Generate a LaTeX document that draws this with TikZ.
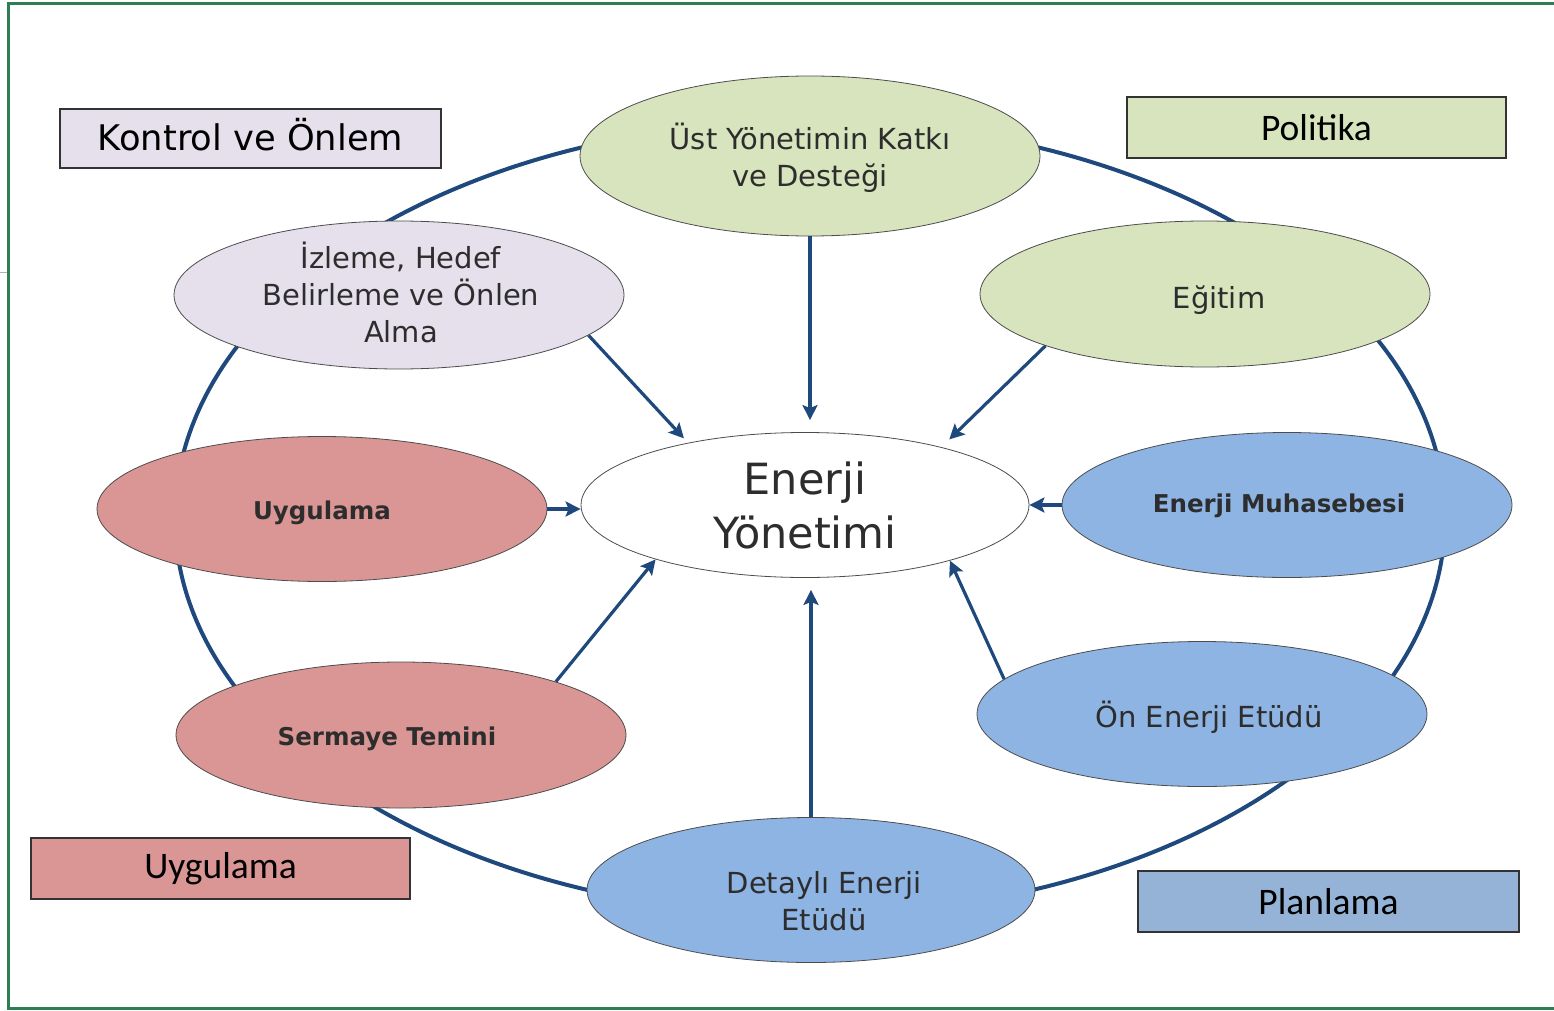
\documentclass[tikz,border=0pt]{standalone}
\usepackage{fontspec}
\setmainfont{DejaVu Sans}
\newfontfamily\carlfont{Carlito}
\usetikzlibrary{shapes.geometric,arrows.meta}
\definecolor{frameg}{RGB}{47,125,82}
\definecolor{linec}{RGB}{31,73,125}
\definecolor{lgreen}{RGB}{215,228,189}
\definecolor{lav}{RGB}{229,224,236}
\definecolor{rede}{RGB}{217,150,148}
\definecolor{bluee}{RGB}{142,180,227}
\definecolor{planb}{RGB}{149,179,215}
\definecolor{txt}{RGB}{45,45,45}
\begin{document}
\begin{tikzpicture}[x=1pt,y=-1pt,
  ell/.style={ellipse, draw=black!70, line width=0.8pt, inner sep=0pt,
              minimum width=450pt, minimum height=145pt},
  lbl/.style={inner sep=0pt, text=txt, align=center, font=\fontsize{29}{37}\selectfont},
  lblb/.style={lbl, font=\fontsize{24.5}{30}\selectfont\bfseries},
  boxn/.style={rectangle, draw=black!80, line width=1.5pt, inner sep=0pt, text=black},
  carl/.style={font=\carlfont\fontsize{37.5}{40}\selectfont},
  conn/.style={draw=linec, line width=3.2pt, -{Stealth[length=15pt,width=15pt,inset=3pt]}},
  ring/.style={draw=linec, line width=4pt}]
\useasboundingbox (0,0) rectangle (1554,1011);
% frame
\draw[frameg, line width=3pt] (1560,4) -- (8.5,4) -- (8.5,1008.5) -- (1560,1008.5);
\draw[gray!60, line width=0.8pt] (0,272) -- (7,272);
% ring
\draw[ring] (810,518) ellipse [x radius=635pt, y radius=397pt];
% ellipses
\node[ell, fill=lgreen, minimum width=460pt, minimum height=160pt,
      label={[lbl, yshift=-2pt]center:Üst Yönetimin Katkı\\ve Desteği}] (ust) at (810,156) {};
\node[ell, fill=lgreen, minimum height=146pt,
      label={[lbl, xshift=14pt, yshift=-6pt]center:Eğitim}] (egitim) at (1205,294) {};
\node[ell, fill=lav, minimum height=148pt,
      label={[lbl, xshift=2pt, yshift=3pt]center:İzleme, Hedef\\Belirleme ve Önlen\\Alma}] (izleme) at (399,295) {};
\node[ell, fill=white, minimum width=448pt,
      label={[lbl, font=\fontsize{43}{54}\selectfont]center:Enerji\\Yönetimi}] (enerji) at (805,505) {};
\node[ell, fill=bluee,
      label={[lblb, xshift=-8pt, yshift=-1pt]center:Enerji Muhasebesi}] (muh) at (1287,505) {};
\node[ell, fill=bluee,
      label={[lbl, xshift=7pt, yshift=-3pt]center:Ön Enerji Etüdü}] (on) at (1202,714) {};
\node[ell, fill=bluee, minimum width=448pt,
      label={[lbl, xshift=13pt, yshift=-11pt]center:Detaylı Enerji\\Etüdü}] (detay) at (811,890) {};
\node[ell, fill=rede, minimum height=146pt,
      label={[lblb, xshift=-14pt, yshift=-4pt]center:Sermaye Temini}] (sermaye) at (401,735) {};
\node[ell, fill=rede,
      label={[lblb, yshift=-4pt]center:Uygulama}] (uygell) at (322,509) {};
% boxes
\node[boxn, fill=lav, minimum width=381pt, minimum height=59pt, font=\fontsize{35.3}{40}\selectfont,
      text height=27pt, text depth=3pt] (kontrol) at (250.5,138.5) {Kontrol ve Önlem};
\node[boxn, carl, fill=lgreen, minimum width=379pt, minimum height=61pt] (politika) at (1316.5,127.5) {Politika};
\node[boxn, carl, fill=rede, minimum width=379pt, minimum height=61pt] (uygbox) at (220.5,868.5) {Uygulama};
\node[boxn, carl, fill=planb, minimum width=381pt, minimum height=61pt] (planlama) at (1328.5,901.5) {Planlama};
% connectors
\draw[conn, shorten >=12pt] (ust.south) -- (ust.south |- enerji.north);
\draw[conn, shorten >=6pt] (izleme.-12) -- (enerji.152);
\draw[conn, shorten >=11pt] (egitim.-162) -- (enerji.23);
\draw[conn] (uygell.east) -- (uygell.east -| enerji.west);
\draw[conn] (muh.west) -- (enerji.east);
\draw[conn] (sermaye.19) -- (enerji.200);
\draw[conn, shorten >=12pt] (detay.north) -- (detay.north |- enerji.south);
\draw[conn] (on.170) -- (enerji.-21);
\end{tikzpicture}
\end{document}
